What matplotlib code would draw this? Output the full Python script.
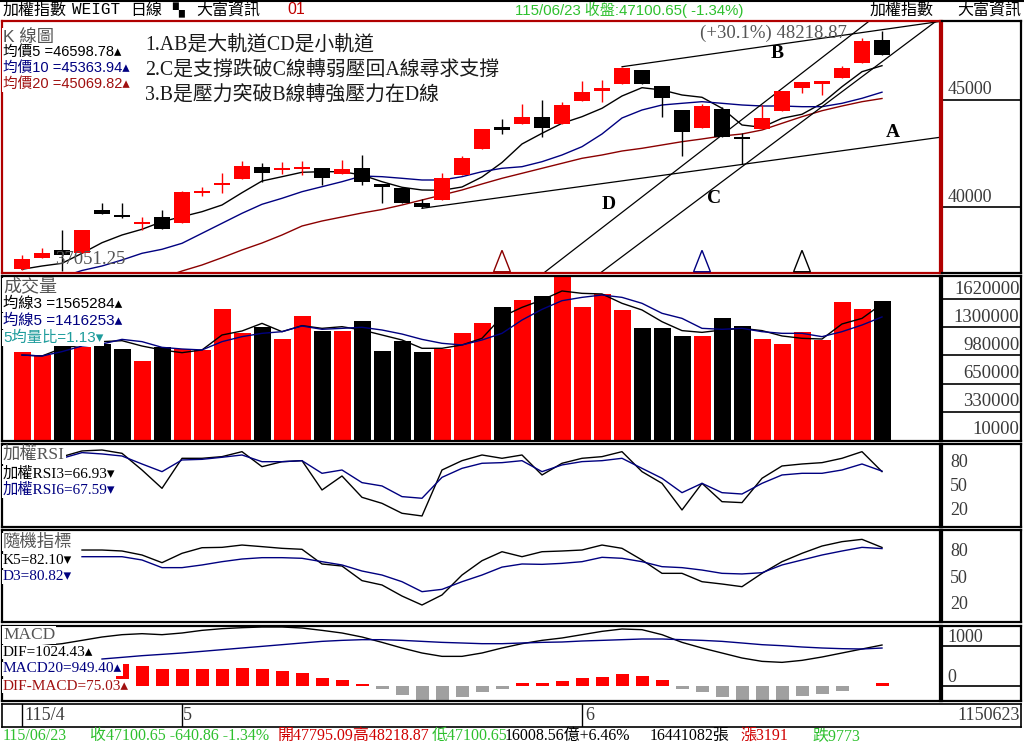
import numpy as np
import matplotlib
matplotlib.use('Agg')
import matplotlib.pyplot as plt
from matplotlib.patches import Polygon
from matplotlib.transforms import blended_transform_factory

# ============================================================
# Data (44 trading days, 115/4 - 115/06/23)
# ============================================================
nan = np.nan

open_ = [37110, 37650, 38010, 37880, 39870, 39540, 39220, 39560, 39250, 40680,
         41040, 41300, 41890, 41750, 41770, 41820, 41540, 41850, 41070, 40890,
         40190, 40340, 41500, 42700, 43760, 43870, 44220, 43870, 44950, 45420,
         45730, 46400, 45650, 44530, 43710, 44570, 43210, 43630, 44490, 45550,
         45730, 46010, 46710, 47795.09]
high = [37780, 38090, 38940, 38950, 40210, 40210, 39560, 39870, 40770, 40960,
        41580, 42170, 42050, 42120, 42170, 41830, 42200, 42440, 41080, 40900,
        40390, 41580, 42390, 43650, 44100, 44800, 45000, 44920, 45900, 45930,
        46550, 46410, 45660, 44540, 44810, 44660, 43450, 44770, 45420, 45830,
        45890, 46580, 47880, 48218.87]
low = [37080, 37650, 37051.25, 37880, 39670, 39520, 38940, 38970, 39250, 40540,
       40650, 41300, 41190, 41550, 41500, 41040, 41540, 41040, 40210, 40200,
       39950, 40340, 41500, 42700, 43400, 43870, 43260, 43870, 44950, 44920,
       45730, 45730, 44220, 42390, 43710, 43260, 42020, 43630, 44490, 45310,
       45230, 46010, 46710, 47100.65]
close = [37580, 37880, 37780, 38940, 39670, 39530, 39330, 38980, 40700, 40760,
         41150, 41940, 41610, 41830, 41890, 41380, 41780, 41190, 40930, 40210,
         40030, 41350, 42280, 43630, 43600, 44220, 43680, 44750, 45390, 45550,
         46480, 45730, 45110, 43520, 44720, 43260, 43200, 44150, 45420, 45820,
         45880, 46480, 47750, 47100.65]

ma5 = [37111, 37264, 37390, 37856, 38350, 38709, 38975, 39329, 39562, 39795,
       40107, 40680, 41225, 41426, 41631, 41659, 41659, 41505, 41193, 40932,
       40806, 40792, 40946, 41412, 42087, 42950, 43448, 43914, 44222, 44613,
       45186, 45573, 45466, 45233, 45126, 44613, 43835, 43728, 44147, 44334,
       44846, 45620, 46319, 46598.78]
ma10 = [nan, nan, 36752, 37055, 37264, 37544, 37856, 38043, 38322, 38788,
        39254, 39720, 40140, 40419, 40727, 40960, 41193, 41458, 41426, 41351,
        41272, 41272, 41426, 41659, 41817, 41892, 42125, 42437, 42824, 43416,
        44161, 44534, 44767, 44846, 44921, 44846, 44767, 44720, 44720, 44688,
        44688, 44846, 45079, 45363.94]
ma20 = [nan, nan, nan, nan, nan, nan, nan, 36705, 37031, 37311,
        37651, 38010, 38336, 38709, 39128, 39361, 39548, 39734, 39897, 40107,
        40340, 40573, 40806, 41086, 41351, 41584, 41817, 42050, 42283, 42437,
        42623, 42749, 42903, 43057, 43183, 43322, 43416, 43602, 43914, 44222,
        44501, 44720, 44921, 45069.82]

volume = [1019000, 981000, 1107000, 1076000, 1107000, 1050000, 916000, 1069000, 1050000, 1038000,
          1507000, 1236000, 1305000, 1164000, 1430000, 1255000, 1255000, 1370000, 1027000, 1145000,
          1019000, 1050000, 1236000, 1350000, 1533000, 1610000, 1659000, 1869000, 1533000, 1675000,
          1499000, 1293000, 1293000, 1202000, 1202000, 1408000, 1316000, 1168000, 1110000, 1244000,
          1156000, 1590000, 1510000, 1602000]
vol_ma3 = [981000, 970000, 1058000, 1096000, 1134000, 1145000, 1084000, 1039000, 1008000, 1039000,
           1210000, 1256000, 1343000, 1248000, 1317000, 1286000, 1305000, 1267000, 1210000, 1153000,
           1058000, 1058000, 1096000, 1172000, 1419000, 1526000, 1610000, 1713000, 1686000, 1679000,
           1572000, 1496000, 1362000, 1260000, 1240000, 1267000, 1286000, 1260000, 1199000, 1172000,
           1164000, 1336000, 1400000, 1565284]
vol_ma5 = [981000, 970000, 1020000, 1084000, 1107000, 1160000, 1134000, 1069000, 1050000, 1039000,
           1134000, 1191000, 1229000, 1248000, 1313000, 1275000, 1286000, 1298000, 1267000, 1221000,
           1160000, 1115000, 1096000, 1153000, 1229000, 1381000, 1503000, 1602000, 1640000, 1667000,
           1640000, 1572000, 1458000, 1400000, 1286000, 1275000, 1286000, 1248000, 1229000, 1229000,
           1191000, 1248000, 1324000, 1416253]

rsi3 = [nan, nan, 85.9, 93.1, 94.3, 90.1, 69.0, 45.8, 83.8, 83.8,
        85.9, 92.2, 73.2, 79.5, 80.8, 43.7, 61.4, 34.4, 26.8, 14.2,
        10.8, 69.0, 80.8, 88.0, 83.8, 88.0, 62.7, 77.5, 83.8, 85.9,
        92.2, 66.9, 52.1, 18.4, 52.1, 28.9, 27.7, 58.5, 74.1, 76.6,
        78.3, 83.8, 92.2, 66.93]
rsi6 = [nan, nan, 83.8, 91.0, 89.3, 86.7, 76.6, 66.9, 81.7, 82.5,
        85.1, 88.0, 79.5, 79.5, 80.8, 64.8, 69.0, 53.0, 48.8, 35.3,
        33.2, 59.7, 71.1, 77.5, 78.3, 80.8, 66.9, 75.4, 79.6, 80.8,
        83.8, 71.1, 58.5, 40.3, 52.1, 40.3, 38.6, 52.1, 62.7, 64.8,
        64.8, 69.0, 76.6, 67.59]

k5 = [nan, nan, nan, 79.2, 79.2, 78.1, 73.6, 65.0, 75.5, 81.8,
      82.2, 84.8, 83.0, 81.1, 80.0, 63.5, 61.2, 44.8, 39.9, 27.5,
      17.4, 28.7, 51.1, 67.2, 77.3, 71.7, 77.3, 78.1, 79.2, 84.8,
      81.1, 68.0, 53.0, 53.0, 43.6, 41.0, 38.0, 53.0, 66.1, 75.5,
      83.7, 88.6, 91.2, 82.10]
d3 = [nan, nan, nan, 71.7, 71.7, 71.7, 68.0, 59.4, 59.4, 62.4,
      66.1, 69.1, 70.6, 70.6, 69.9, 66.1, 62.4, 55.6, 51.1, 43.6,
      32.4, 35.0, 43.6, 51.1, 60.0, 63.5, 63.1, 64.2, 66.1, 71.0,
      69.9, 66.1, 60.5, 59.4, 56.7, 53.0, 52.3, 53.7, 62.4, 68.0,
      73.6, 78.1, 82.2, 80.82]

dif = [nan, 1008, 1058, 1141, 1225, 1283, 1308, 1283, 1325, 1391,
       1433, 1458, 1475, 1475, 1450, 1391, 1325, 1225, 1091, 950,
       825, 741, 741, 825, 950, 1058, 1141, 1200, 1283, 1366,
       1425, 1408, 1283, 1091, 950, 825, 700, 616, 591, 641,
       725, 825, 925, 1024.43]
macd20 = [nan, nan, nan, nan, 675, 716, 758, 791, 825, 866,
          908, 950, 991, 1033, 1075, 1116, 1141, 1158, 1158, 1141,
          1116, 1091, 1075, 1058, 1058, 1075, 1091, 1100, 1125, 1141,
          1158, 1175, 1175, 1158, 1141, 1116, 1075, 1033, 1008, 975,
          950, 933, 925, 949.40]
osc = [nan, nan, nan, nan, nan, 558, 500, 417, 417, 417,
       417, 450, 417, 375, 333, 200, 142, 58, -67, -233,
       -358, -358, -275, -150, -67, 75, 75, 125, 200, 225,
       292, 250, 142, -67, -150, -275, -425, -425, -342, -258,
       -208, -125, 0, 75.03]

# trend lines: (day index, price) anchors
trend_lines = {
    'A': [(20, 39953), (45.9, 43262)],
    'B': [(30, 46550), (45.9, 48660)],
    'C': [(28.98, 36985), (45.65, 48635)],
    'D': [(26.15, 36985), (42.3, 48635)],
}
trend_labels = {'B': (37.75, 47144), 'A': (43.55, 43462), 'D': (29.35, 40107), 'C': (34.6, 40387)}
signal_days = [24, 34, 39]
signal_colors = ['#8B0000', '#000080', '#000000']
month_days = [0, 8, 28]

n = len(close)
x = np.arange(n)

# ============================================================
# Figure set-up
# ============================================================
W, H = 1024, 745
fig = plt.figure(figsize=(W / 100, H / 100), dpi=100)
fig.patch.set_facecolor('white')

SANS = ['Liberation Sans', 'Noto Sans CJK TC', 'DejaVu Sans']
SERIF = ['Liberation Serif', 'Noto Sans CJK TC', 'DejaVu Sans']
RED = '#FF0000'
NAVY = '#000080'
DRED = '#8B0000'
GREEN = '#2EC02E'
GREY = '#555555'
TICK = '#3a3a3a'
XLIM = (-1.0, 45.9)


def box(x0, y0, x1, y1):
    return [x0 / W, 1 - y1 / H, (x1 - x0) / W, (y1 - y0) / H]


def ptext(xp, yp, s, **kw):
    kw.setdefault('va', 'center')
    kw.setdefault('family', SANS)
    return fig.text(xp / W, 1 - yp / H, s, **kw)


def label(xp, yp, s, color='black', size=10.5, family=SANS):
    ptext(xp, yp, s, color=color, fontsize=size, family=family, zorder=10,
          bbox=dict(boxstyle='square,pad=0.05', fc='white', ec='none'))


def panel(y0, y1, ylim, edge='black'):
    ax = fig.add_axes(box(2, y0, 940, y1))
    ax.set_xlim(*XLIM)
    ax.set_ylim(*ylim)
    ax.set_xticks([])
    ax.set_yticks([])
    for s in ax.spines.values():
        s.set_color(edge)
        s.set_linewidth(1.6)
    rax = fig.add_axes(box(942, y0, 1021, y1))
    rax.set_xlim(0, 1)
    rax.set_ylim(*ylim)
    rax.set_xticks([])
    rax.set_yticks([])
    for s in rax.spines.values():
        s.set_color('black')
        s.set_linewidth(1.6)
    rax.spines['left'].set_color(edge)
    return ax, rax


def px_units(ax, pixels):
    # data units of a vertical pixel offset on this axes
    y0, y1 = ax.get_ylim()
    return (y1 - y0) / (ax.get_position().height * H) * pixels


# ============================================================
# K line panel
# ============================================================
axk, rk = panel(21, 273, (36938, 48681), edge='#B00000')
for i in range(n):
    col = RED if close[i] >= open_[i] else 'black'
    axk.vlines(i, low[i], high[i], color=col, lw=1, zorder=3)
    axk.bar(i, max(abs(close[i] - open_[i]), 90), bottom=min(open_[i], close[i]),
            width=0.84, color=col, zorder=4)
axk.plot(x, ma5, color='black', lw=1, zorder=2)
axk.plot(x, ma10, color=NAVY, lw=1, zorder=2)
axk.plot(x, ma20, color=DRED, lw=1, zorder=2)
for (p0, p1) in trend_lines.values():
    axk.plot([p0[0], p1[0]], [p0[1], p1[1]], color='black', lw=0.9, zorder=2)
for k, (xi, yi) in trend_labels.items():
    axk.text(xi, yi, k, fontsize=14, family=SERIF, fontweight='bold', ha='center', va='center')
trans = blended_transform_factory(axk.transData, axk.transAxes)
for d, c in zip(signal_days, signal_colors):
    axk.add_patch(Polygon([(d - 0.42, 0.005), (d, 0.09), (d + 0.42, 0.005)], closed=True,
                          fill=False, ec=c, lw=1, transform=trans, zorder=5))
for v in [45000, 40000]:
    rk.axhline(v, color='black', lw=1.2)
    rk.text(0.07, v + px_units(rk, 10), str(v), fontsize=13, family=SERIF, color=TICK, va='center')

label(3, 37, 'K 線圖', color=GREY, size=12.5)
label(3, 52, '均價5 =46598.78▴')
label(3, 68, '均價10 =45363.94▴', color=NAVY)
label(3, 84, '均價20 =45069.82▴', color='#A01010')
for yp, s in [(46, '1.AB是大軌道CD是小軌道'), (71, '2.C是支撐跌破C線轉弱壓回A線尋求支撐'),
              (96, '3.B是壓力突破B線轉強壓力在D線')]:
    ptext(145, yp, s, fontsize=14.3, family=SERIF, fontweight='medium', color='#1a1a1a')
ptext(700, 33, '(+30.1%) 48218.87', fontsize=13.5, family=SERIF, color='#555555')
ptext(55, 259, '37051.25', fontsize=13.5, family=SERIF, color='#555555')

# ============================================================
# Volume panel
# ============================================================
axv, rv = panel(276, 441, (-1428, 1884192))
vcols = [RED if close[i] >= open_[i] else 'black' for i in range(n)]
axv.bar(x, volume, width=0.85, color=vcols, zorder=2)
axv.plot(x, vol_ma3, color='black', lw=1, zorder=3)
axv.plot(x, vol_ma5, color=NAVY, lw=1, zorder=3)
for v in [1620000, 1300000, 980000, 650000, 330000]:
    rv.axhline(v, color='black', lw=1.2)
for v in [1620000, 1300000, 980000, 650000, 330000, 10000]:
    rv.text(0.98, v + px_units(rv, 10), str(v), fontsize=13.5, family=SERIF, color=TICK,
            ha='right', va='center')
label(3, 287, '成交量', color=GREY, size=13)
label(3, 304, '均線3 =1565284▴', size=11)
label(3, 321, '均線5 =1416253▴', color=NAVY, size=11)
label(3, 338, '5均量比=1.13▾', color='#1E9C9C', size=11)

# ============================================================
# RSI panel
# ============================================================
axr, rr = panel(444, 527, (-3.16, 101.9))
axr.plot(x, rsi3, color='black', lw=1)
axr.plot(x, rsi6, color=NAVY, lw=1)
for v in [80, 50, 20]:
    rr.text(0.1, v - px_units(rr, 1.5), str(v), fontsize=13, family=SERIF, color=TICK, va='center')
label(3, 455, '加權RSI', color=GREY, size=12.5, family=SERIF)
label(3, 474, '加權RSI3=66.93▾', size=11, family=SERIF)
label(3, 490, '加權RSI6=67.59▾', color=NAVY, size=11, family=SERIF)

# ============================================================
# KD panel
# ============================================================
axs, rs = panel(530, 622, (-1.69, 101.7))
axs.plot(x, k5, color='black', lw=1)
axs.plot(x, d3, color=NAVY, lw=1)
for v in [80, 50, 20]:
    rs.text(0.1, v - px_units(rs, 2), str(v), fontsize=13, family=SERIF, color=TICK, va='center')
label(3, 542, '隨機指標', color=GREY, size=12.5)
label(3, 561, 'K5=82.10▾', size=11, family=SERIF)
label(3, 577, 'D3=80.82▾', color=NAVY, size=11, family=SERIF)

# ============================================================
# MACD panel
# ============================================================
axm, rm = panel(626, 701, (-375, 1500))
osc_arr = np.array(osc, dtype=float)
axm.bar(x, osc_arr, width=0.65, color=[RED if v >= 0 else '#A0A0A0' for v in np.nan_to_num(osc_arr)],
        zorder=2)
axm.plot(x, dif, color='black', lw=1, zorder=3)
axm.plot(x, macd20, color=NAVY, lw=1, zorder=3)
for v in [1000, 0]:
    rm.axhline(v, color='black', lw=1.2)
    rm.text(0.07, v + px_units(rm, 9), str(v), fontsize=13, family=SERIF, color=TICK, va='center')
label(3, 635, 'MACD', color=GREY, size=12.5, family=SERIF)
label(3, 652, 'DIF=1024.43▴', size=11, family=SERIF)
label(3, 669, 'MACD20=949.40▴', color=NAVY, size=11, family=SERIF)
label(3, 686, 'DIF-MACD=75.03▴', color='#A01010', size=11, family=SERIF)

# ============================================================
# Date axis and status bars
# ============================================================
axd = fig.add_axes(box(2, 704, 1021, 727))
axd.set_xlim(XLIM[0], XLIM[0] + 1019 / 20)
axd.set_ylim(0, 1)
axd.set_xticks([])
axd.set_yticks([])
for s in axd.spines.values():
    s.set_linewidth(1.2)
for xi in month_days:
    axd.axvline(xi, color='black', lw=1)
ptext(24, 716, '115/4', fontsize=13, family=SERIF, color=TICK)
ptext(183, 716, '5', fontsize=13, family=SERIF, color=TICK)
ptext(585, 716, '6', fontsize=13, family=SERIF, color=TICK)
ptext(1020, 716, '1150623', fontsize=13, family=SERIF, color=TICK, ha='right')

# header
ptext(3, 10, '加權指數', fontsize=11.5)
ptext(72, 10, 'WEIGT', fontsize=11.5, family=['Liberation Mono'])
ptext(130, 10, '日線', fontsize=11.5)
ptext(172, 10, '▚', fontsize=11, family=['DejaVu Sans'])
ptext(196, 10, '大富資訊', fontsize=11.5)
ptext(287, 10, '01', fontsize=11.5, color='#C00000')
ptext(515, 10, '115/06/23 收盤:47100.65( -1.34%)', fontsize=10.8, color=GREEN)
ptext(870, 10, '加權指數', fontsize=11.5)
ptext(957, 10, '大富資訊', fontsize=11.5)
fig.add_artist(plt.Line2D([0, 1], [1 - 0.5 / H, 1 - 0.5 / H], color='black', lw=1.5))

# status line
status = [(3, '115/06/23', GREEN), (90, '收47100.65 -640.86 -1.34%', GREEN),
          (278, '開47795.09高48218.87', '#D00000'), (432, '低47100.65', GREEN),
          (505, '16008.56億+6.46%', 'black'), (650, '16441082張', 'black'),
          (740, '漲3191', '#D00000'), (812, '跌9773', GREEN)]
for xp, s, c in status:
    ptext(xp, 736, s, fontsize=11.5, family=SERIF, color=c)

fig.savefig('out.png', dpi=100, facecolor='white')
